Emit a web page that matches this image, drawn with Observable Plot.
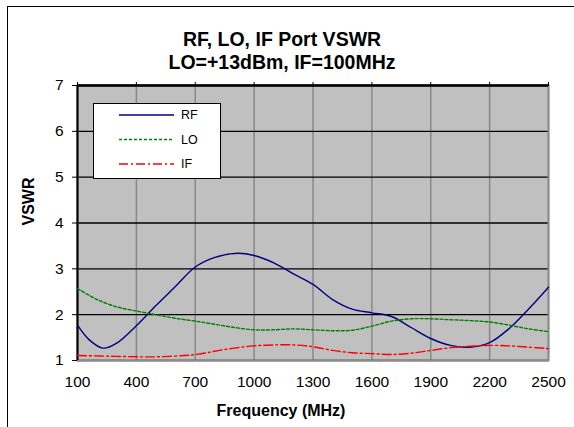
<!DOCTYPE html>
<html>
<head>
<meta charset="utf-8">
<script src="https://cdn.jsdelivr.net/npm/d3@7"></script>
<script src="https://cdn.jsdelivr.net/npm/@observablehq/plot@0.6"></script>
<style>
  html, body { margin: 0; padding: 0; background: #fff; overflow: hidden; }
  #wrap { position: relative; width: 574px; height: 427px; font-family: "Liberation Sans", Arial, sans-serif; }
  #outer { position: absolute; left: 7px; top: 6px; width: 700px; height: 600px; border-left: 1.5px solid #000; border-top: 1.5px solid #000; box-sizing: border-box; }
  #chart { position: absolute; left: 0; top: 0; }
  #legend { position: absolute; left: 93px; top: 103px; }
</style>
</head>
<body>
<div id="wrap">
  <div id="outer"></div>
  <div id="chart"></div>
  <div id="legend"></div>
</div>
<script>
// ---- data ----
const titleLine1 = "RF, LO, IF Port VSWR";
const titleLine2 = "LO=+13dBm, IF=100MHz";
const xLabel = "Frequency (MHz)";
const yLabel = "VSWR";
const xTicks = [100, 400, 700, 1000, 1300, 1600, 1900, 2200, 2500];
const yTicks = [1, 2, 3, 4, 5, 6, 7];

const rfFreq = [100, 160, 230, 300, 400, 500, 600, 700, 800, 918, 1000, 1100, 1200, 1300, 1400, 1500, 1600, 1700, 1800, 1900, 2000, 2100, 2200, 2300, 2400, 2500];
const rfVswr = [1.77, 1.45, 1.27, 1.38, 1.76, 2.2, 2.62, 3.04, 3.25, 3.34, 3.29, 3.13, 2.89, 2.66, 2.33, 2.12, 2.04, 1.96, 1.72, 1.48, 1.33, 1.29, 1.39, 1.7, 2.13, 2.6];

const loFreq = [100, 200, 300, 400, 500, 600, 700, 800, 900, 1000, 1100, 1200, 1300, 1400, 1500, 1600, 1700, 1800, 1900, 2000, 2100, 2200, 2300, 2400, 2500];
const loVswr = [2.57, 2.33, 2.17, 2.08, 2.0, 1.92, 1.86, 1.79, 1.72, 1.67, 1.67, 1.69, 1.67, 1.65, 1.66, 1.75, 1.86, 1.91, 1.91, 1.89, 1.87, 1.84, 1.77, 1.69, 1.63];

const ifFreq = [100, 300, 500, 700, 850, 1000, 1100, 1200, 1300, 1400, 1500, 1600, 1700, 1800, 1900, 2000, 2100, 2200, 2300, 2400, 2500];
const ifVswr = [1.11, 1.09, 1.08, 1.13, 1.24, 1.32, 1.34, 1.34, 1.3, 1.22, 1.17, 1.15, 1.13, 1.16, 1.22, 1.28, 1.31, 1.33, 1.32, 1.29, 1.26];

const seriesNames = ["RF", "LO", "IF"];
const seriesColors = ["#000080", "#008000", "#FF0000"];
const seriesDash = [null, "3,2", "9,3,2,3"];

// ---- build ----
const toRows = (f, v) => f.map((x, i) => ({ f: x, v: v[i] }));
const series = [toRows(rfFreq, rfVswr), toRows(loFreq, loVswr), toRows(ifFreq, ifVswr)];

const lineMarks = series.map((rows, i) =>
  Plot.line(rows, {
    x: "f", y: "v", curve: "catmull-rom",
    stroke: seriesColors[i], strokeWidth: 1.4,
    strokeDasharray: seriesDash[i] || undefined
  })
);

const boldFont = "bold";
const chart = Plot.plot({
  width: 574,
  height: 427,
  marginLeft: 77,
  marginRight: 26,
  marginTop: 85,
  marginBottom: 67,
  style: { background: "transparent", fontFamily: "'Liberation Sans', Arial, sans-serif", fontSize: "15px", color: "#000" },
  x: { domain: [100, 2500] },
  y: { domain: [1, 7] },
  marks: [
    Plot.frame({ fill: "#C0C0C0", stroke: null }),
    Plot.gridX(xTicks, { stroke: "#888", strokeOpacity: 1, strokeWidth: 1.5 }),
    Plot.gridY(yTicks, { stroke: "#000", strokeOpacity: 1, strokeWidth: 1.3 }),
    Plot.frame({ stroke: "#8c8c8c", strokeWidth: 2 }),
    Plot.ruleX([xTicks[0]], { stroke: "#000", strokeWidth: 2 }),
    Plot.ruleY([yTicks[yTicks.length - 1]], { stroke: "#000", strokeWidth: 2.5 }),
    Plot.axisY(yTicks, { tickSize: 5, tickPadding: 9, label: null, stroke: "#000", fontSize: "15.5px" }),
    Plot.axisX(xTicks, { anchor: "bottom", tickSize: 0, tickPadding: 15, label: null, fontSize: "15.5px", tickFormat: d => String(d) }),
    Plot.axisX(xTicks, { anchor: "top", tickSize: 4, tickFormat: () => "", label: null, stroke: "#000" }),
    ...lineMarks,
    Plot.text([titleLine1], { frameAnchor: "top", lineAnchor: "bottom", dx: -31, dy: -40, fontSize: 19.5, fontWeight: boldFont, fill: "#000" }),
    Plot.text([titleLine2], { frameAnchor: "top", lineAnchor: "bottom", dx: -31, dy: -17, fontSize: 19.5, fontWeight: boldFont, fill: "#000" }),
    Plot.text([xLabel], { frameAnchor: "bottom", lineAnchor: "bottom", dx: -32, dy: 55, fontSize: 16, fontWeight: boldFont, fill: "#000" }),
    Plot.text([yLabel], { frameAnchor: "left", lineAnchor: "middle", rotate: -90, dx: -49, dy: 2.5, fontSize: 16, fontWeight: boldFont, fill: "#000" })
  ]
});
document.getElementById("chart").appendChild(chart);

// ---- legend ----
const lw = 127, lh = 75;
const leg = d3.select("#legend").append("svg").attr("width", lw + 2).attr("height", lh + 2)
  .style("font-family", "'Liberation Sans', Arial, sans-serif");
leg.append("rect").attr("x", 0.5).attr("y", 0.5).attr("width", lw).attr("height", lh)
  .attr("fill", "#fff").attr("stroke", "#000").attr("stroke-width", 1);
seriesNames.forEach((name, i) => {
  const cy = 12 + i * 24.5;
  leg.append("line").attr("x1", 26).attr("x2", 81).attr("y1", cy).attr("y2", cy)
    .attr("stroke", seriesColors[i]).attr("stroke-width", 1.4)
    .attr("stroke-dasharray", seriesDash[i]);
  leg.append("text").attr("x", 88).attr("y", cy).attr("dy", "0.35em")
    .attr("font-size", 12.5).attr("fill", "#000").text(name);
});
</script>
</body>
</html>
